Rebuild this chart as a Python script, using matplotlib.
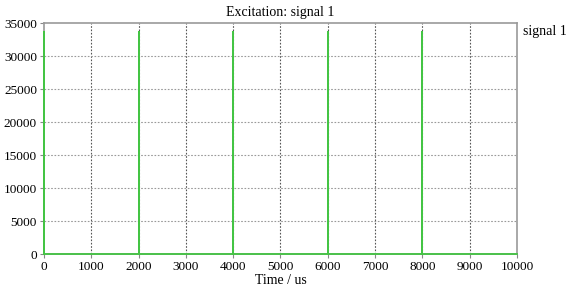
import matplotlib
matplotlib.use("Agg")
import matplotlib.pyplot as plt

# pulse train: time in us, amplitude
time_us = [0, 0, 1, 1, 2000, 2000, 2001, 2001, 4000, 4000, 4001, 4001,
           6000, 6000, 6001, 6001, 8000, 8000, 8001, 8001, 10000]
amplitude = [0, 33700, 33700, 0, 0, 33700, 33700, 0, 0, 33700, 33700, 0,
             0, 33700, 33700, 0, 0, 33700, 33700, 0, 0]

x_ticks = [0, 1000, 2000, 3000, 4000, 5000, 6000, 7000, 8000, 9000, 10000]
y_ticks = [0, 5000, 10000, 15000, 20000, 25000, 30000, 35000]

plt.rcParams['font.family'] = ['Liberation Serif', 'DejaVu Serif']

fig = plt.figure(figsize=(5.67, 2.92), dpi=100)
ax = fig.add_axes([0.0776, 0.130, 0.8342, 0.791])

ax.plot(time_us, amplitude, color='#44c444', lw=1.3, clip_on=False, zorder=3)

ax.set_xlim(0, 10000)
ax.set_ylim(0, 35000)
ax.set_xticks(x_ticks)
ax.set_yticks(y_ticks)
ax.tick_params(labelsize=9.5, length=3, width=0.8, color='#888888', pad=2)

for x in x_ticks[1:-1]:
    ax.axvline(x, color='#555555', lw=0.8, ls=(0, (1.5, 1.5)), zorder=1)
for y in y_ticks[1:-1]:
    ax.axhline(y, color='#9a9a9a', lw=0.8, ls=(0, (1.5, 1.5)), zorder=1)

for s in ax.spines.values():
    s.set_color('#999999')
    s.set_linewidth(1.2)

ax.set_xlabel('Time / us', fontsize=10, labelpad=1)
ax.set_title('Excitation: signal 1', fontsize=10, pad=5)
fig.text(0.922, 0.893, 'signal 1', fontsize=10, ha='left', va='center')

fig.savefig('out.png', dpi=100)
